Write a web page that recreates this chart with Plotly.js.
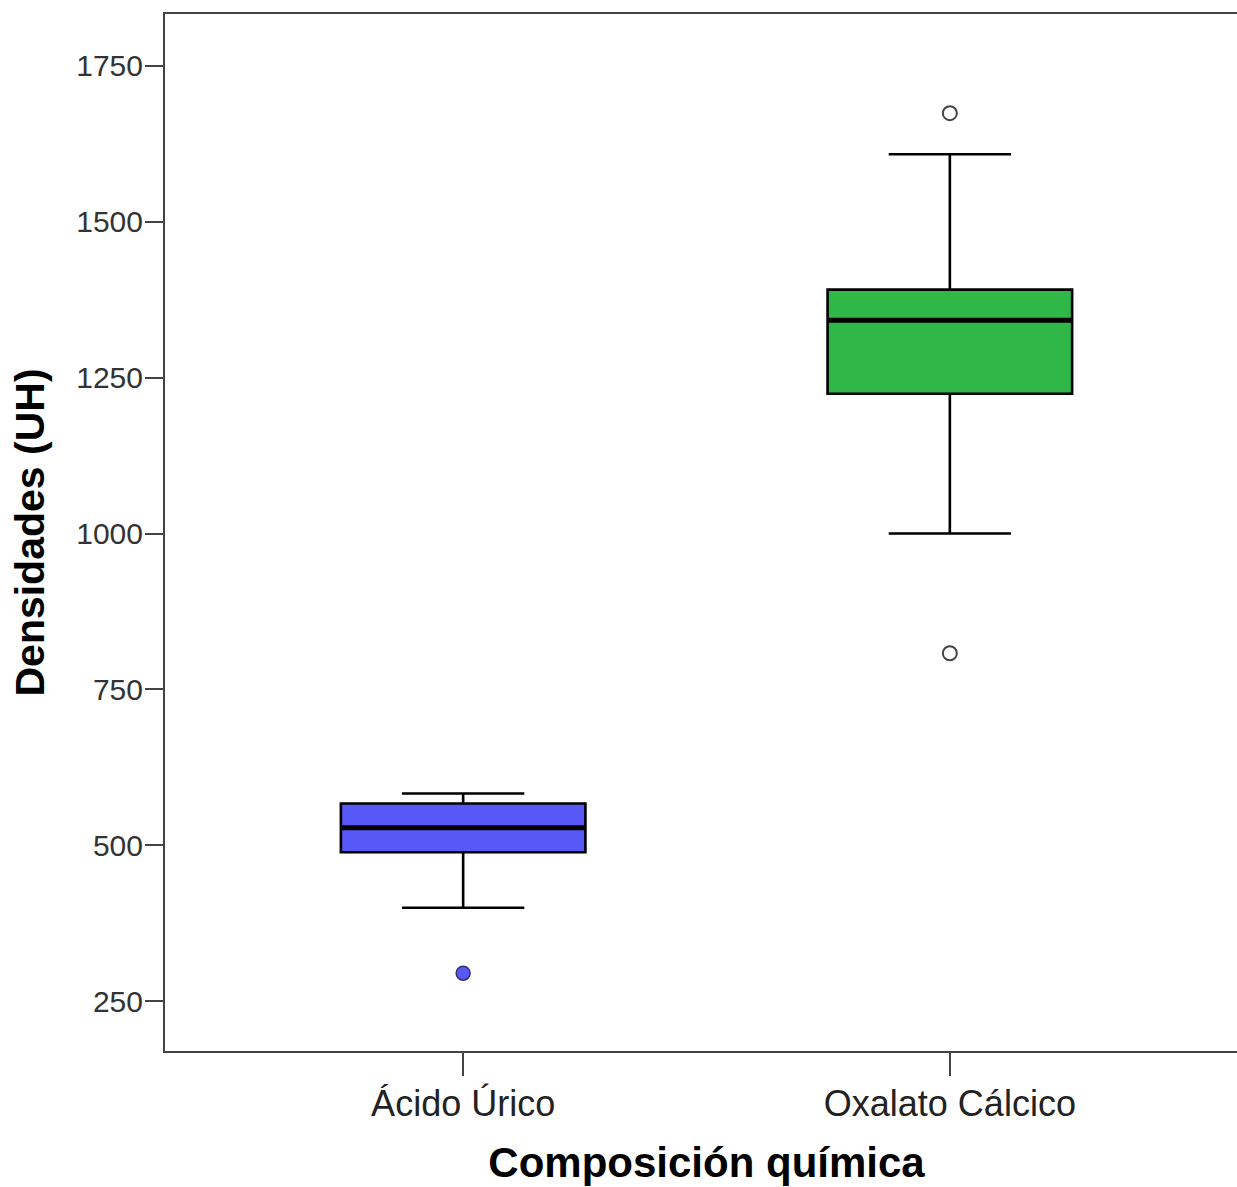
<!DOCTYPE html>
<html>
<head>
<meta charset="utf-8">
<script src="https://cdn.plot.ly/plotly-3.0.1.min.js"></script>
<style>
  html, body { margin: 0; padding: 0; overflow: hidden; background: #fff; }
  #chart { width: 1250px; height: 1187px; }
</style>
</head>
<body>
<div id="chart"></div>
<script>
// ---- Data ----
const categories = ["Ácido Úrico", "Oxalato Cálcico"];
const lowerWhisker = [400, 1000];
const q1Values = [489, 1224];
const medianValues = [528, 1342];
const q3Values = [567, 1391];
const upperWhisker = [583, 1608];
const outliersAcido = [295];
const outliersOxalato = [1674, 808];
const yTickValues = [250, 500, 750, 1000, 1250, 1500, 1750];

// ---- Styles ----
const boxColors = ["#5858f7", "#2fb747"];
const boxWidth = 0.5025;
const axisColor = "#444444";
const fontFamily = "Arial, 'Liberation Sans', sans-serif";

const traces = categories.map((cat, i) => ({
  type: "box",
  x: [i],
  q1: [q1Values[i]],
  median: [medianValues[i]],
  q3: [q3Values[i]],
  lowerfence: [lowerWhisker[i]],
  upperfence: [upperWhisker[i]],
  width: boxWidth,
  whiskerwidth: 0.5,
  fillcolor: boxColors[i],
  line: { color: "#000000", width: 2.6 },
  boxpoints: false,
  name: cat,
  showlegend: false,
  hoverinfo: "skip"
}));

traces.push({
  type: "scatter",
  mode: "markers",
  x: outliersAcido.map(() => 0),
  y: outliersAcido,
  marker: { size: 14, color: boxColors[0], line: { color: "#333366", width: 1.5 } },
  showlegend: false,
  hoverinfo: "skip",
  cliponaxis: false
});
traces.push({
  type: "scatter",
  mode: "markers",
  x: outliersOxalato.map(() => 1),
  y: outliersOxalato,
  marker: { size: 14, color: "#ffffff", line: { color: "#444444", width: 2 } },
  showlegend: false,
  hoverinfo: "skip",
  cliponaxis: false
});

const medianShapes = medianValues.map((m, i) => ({
  type: "line", xref: "x", yref: "y",
  x0: i - boxWidth / 2, x1: i + boxWidth / 2,
  y0: m, y1: m,
  line: { color: "#000000", width: 5 }
}));

const layout = {
  width: 1250,
  height: 1187,
  margin: { l: 165, r: 2, t: 14, b: 136 },
  paper_bgcolor: "#ffffff",
  plot_bgcolor: "#ffffff",
  boxmode: "overlay",
  showlegend: false,
  font: { family: fontFamily, color: "#222222" },
  xaxis: {
    range: [-0.6126, 1.6126],
    tickvals: categories.map((c, i) => i),
    ticktext: categories,
    ticks: "outside",
    ticklen: 23,
    tickwidth: 2,
    tickcolor: axisColor,
    tickfont: { size: 36, color: "#222222", family: fontFamily },
    ticklabelstandoff: -3,
    showline: true,
    linecolor: axisColor,
    linewidth: 2,
    mirror: true,
    showgrid: false,
    zeroline: false,
    title: {
      text: "Composición química",
      font: { size: 42, color: "#000000", family: fontFamily, weight: "bold" },
      standoff: 24
    }
  },
  yaxis: {
    range: [170.2, 1833],
    tickvals: yTickValues,
    ticktext: yTickValues.map(String),
    ticks: "outside",
    ticklen: 18,
    tickwidth: 2,
    tickcolor: axisColor,
    tickfont: { size: 30, color: "#333333", family: fontFamily },
    ticklabelstandoff: -4,
    showline: true,
    linecolor: axisColor,
    linewidth: 2,
    mirror: false,
    showgrid: false,
    zeroline: false,
    title: {
      text: "Densidades (UH)",
      font: { size: 41, color: "#000000", family: fontFamily, weight: "bold" },
      standoff: 19
    }
  },
  shapes: medianShapes
};

Plotly.newPlot("chart", traces, layout, { staticPlot: true, displayModeBar: false });
</script>
</body>
</html>
